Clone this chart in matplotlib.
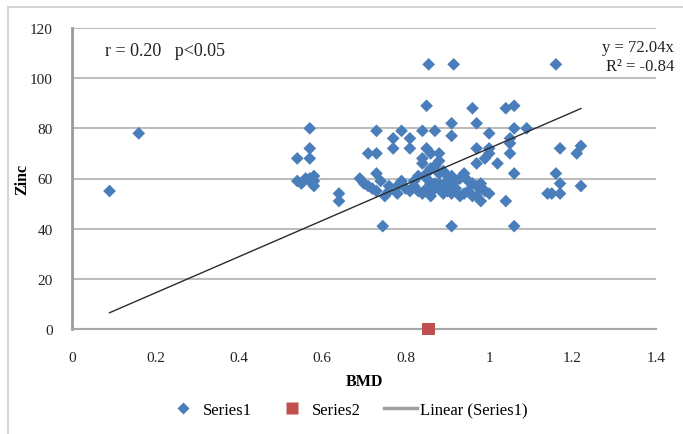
"""Zinc vs BMD scatter with linear fit (Excel-style)."""
import matplotlib
matplotlib.use('Agg')
import matplotlib.pyplot as plt
from matplotlib.lines import Line2D
from matplotlib.patches import Rectangle
import numpy as np

plt.rcParams['font.family'] = ['Liberation Serif', 'DejaVu Serif']

# Series1: BMD (x) and Zinc (y)
bmd = [0.09, 0.16,
       0.57, 0.57, 0.54, 0.57, 0.54, 0.57, 0.58, 0.58,
       0.64, 0.64, 0.69,
       0.73, 0.77, 0.79, 0.77, 0.71, 0.73,
       0.81, 0.81, 0.84, 0.87, 0.85, 0.84, 0.88, 0.88,
       0.73, 0.74, 0.71, 0.73, 0.75, 0.78, 0.79, 0.79, 0.82, 0.81, 0.84,
       0.86, 0.88, 0.90, 0.91, 0.93, 0.96, 0.98, 0.97, 1.00, 0.98, 1.04,
       0.83, 0.85, 0.86, 0.89, 0.88, 0.90, 0.91, 0.94, 0.91, 0.94, 0.97,
       0.76, 0.85, 0.87, 0.92,
       0.80, 0.83, 0.85, 0.87, 0.89, 0.90, 0.92, 0.95, 0.96, 0.99,
       0.93, 0.95, 0.88, 0.82, 0.78, 0.76, 0.72, 0.70, 0.86, 0.89, 0.98,
       0.57, 0.56, 0.58, 0.55, 0.86, 0.87, 0.84, 0.99, 1.05,
       0.855, 0.915, 1.16,
       0.85, 0.96, 1.04, 1.06,
       0.91, 0.97, 0.91, 1.00, 1.06, 1.09, 1.05,
       0.97, 1.00, 0.97, 1.00, 1.02, 1.05, 1.06,
       1.17, 1.21, 1.22, 1.16, 1.17, 1.15, 1.17, 1.22, 1.14,
       0.745, 0.91, 1.06]
zinc = [55, 78,
        80, 72, 68, 68, 59, 60, 57, 59,
        54, 51, 60,
        79, 76, 79, 72, 70, 70,
        76, 72, 79, 79, 72, 68, 70, 67,
        62, 59, 57, 55, 53, 54, 59, 58, 57, 55, 54,
        58, 56, 59, 54, 53, 58, 56, 53, 54, 51, 51,
        61, 62, 64, 63, 58, 61, 61, 62, 57, 54, 57,
        57, 60, 56, 59,
        56, 55, 56, 58, 57, 55, 56, 55, 53, 55,
        60, 59, 62, 59, 57, 55, 56, 58, 53, 54, 58,
        59, 60, 61, 58, 70, 65, 66, 68, 74,
        105.5, 105.5, 105.5,
        89, 88, 88, 89,
        82, 82, 77, 78, 80, 80, 76,
        72, 72, 66, 70, 66, 70, 62,
        72, 70, 73, 62, 58, 54, 54, 57, 54,
        41, 41, 41]

# Series2: single point
bmd2 = [0.855]
zinc2 = [0]

slope = 72.04
r_text = 'r = 0.20   p<0.05'
eq_text = 'y = 72.04x'
r2_text = 'R² = -0.84'

x_ticks = [0, 0.2, 0.4, 0.6, 0.8, 1, 1.2, 1.4]
y_ticks = [0, 20, 40, 60, 80, 100, 120]

BLUE = '#4a7ebb'
RED = '#c0504d'
GRID = '#bdbdbd'

fig = plt.figure(figsize=(6.83, 4.35), dpi=100)
ax = fig.add_axes([72 / 683, 1 - 330 / 435, (656 - 72) / 683, (330 - 29) / 435])

ax.scatter(bmd, zinc, marker='D', s=42, color=BLUE, edgecolors='none', zorder=3)
ax.scatter(bmd2, zinc2, marker='s', s=85, color=RED, edgecolors='none',
           zorder=4, clip_on=False)

xs = np.array([min(bmd), max(bmd)])
ax.plot(xs, slope * xs, color='#2b2b2b', lw=1.0, zorder=4)

ax.set_xlim(0, 1.4)
ax.set_ylim(0, 120)
ax.set_xticks(x_ticks)
ax.set_xticklabels([f'{t:g}' for t in x_ticks])
ax.set_yticks(y_ticks)
ax.set_yticklabels([str(t) for t in y_ticks])
ax.tick_params(axis='both', length=0, labelsize=11, colors='#222222')
ax.tick_params(axis='x', pad=16)
ax.tick_params(axis='y', pad=14)

ax.yaxis.grid(True, color=GRID, lw=1.5)
ax.set_axisbelow(True)
for s in ('top', 'right'):
    ax.spines[s].set_visible(False)
ax.spines['left'].set_color('#9a9a9a')
ax.spines['left'].set_linewidth(2)
ax.spines['bottom'].set_color('#a8a8a8')
ax.spines['bottom'].set_linewidth(1.5)

ax.set_xlabel('BMD', fontsize=11.5, fontweight='bold')
ax.set_ylabel('Zinc', fontsize=11.5, fontweight='bold')
ax.xaxis.set_label_coords(0.5, -(382 - 330) / 301, transform=ax.transAxes)
ax.xaxis.label.set_va('center')
ax.yaxis.set_label_coords(-(72 - 22) / 584, 0.5)
ax.yaxis.label.set_va('center')

ax.text(0.079, 111.2, r_text, fontsize=13, va='center', ha='left', color='#222222')
fig.text(674 / 683, 1 - 48 / 435, eq_text, fontsize=12, ha='right', va='center',
         color='#222222')
fig.text(674 / 683, 1 - 67 / 435, r2_text, fontsize=12, ha='right', va='center',
         color='#222222')

handles = [
    Line2D([], [], ls='none', marker='D', ms=6, color=BLUE, mec='none'),
    Line2D([], [], ls='none', marker='s', ms=8.5, color=RED, mec='none'),
    Line2D([], [], color='#a0a0a0', lw=2.5),
]
fig.legend(handles, ['Series1', 'Series2', 'Linear (Series1)'], ncol=3,
           loc='center', bbox_to_anchor=(347 / 683, 1 - 411 / 435),
           frameon=False, fontsize=12, handlelength=2.0, handletextpad=0.2,
           columnspacing=1.4, borderpad=0)

# light outer frame (chart area border)
fig.patches.append(Rectangle((8 / 683, -0.05), 1.1, 1 - 8 / 435 + 0.05,
                             transform=fig.transFigure, fill=False,
                             ec='#d4d4d4', lw=1.5))

fig.savefig('out.png', dpi=100)
